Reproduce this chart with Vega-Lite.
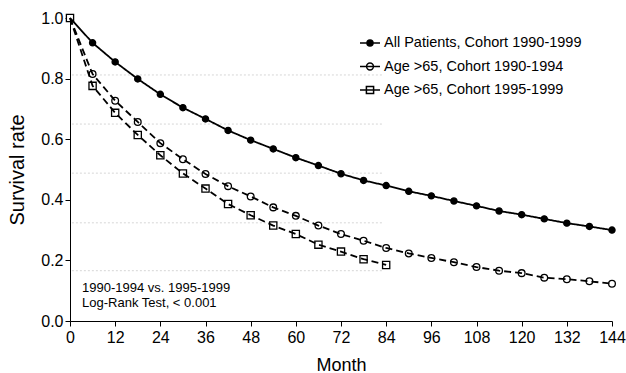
{
  "$schema": "https://vega.github.io/schema/vega-lite/v6.json",
  "width": 542,
  "height": 303,
  "autosize": {"type": "none"},
  "padding": {"left": 70, "top": 18, "right": 14, "bottom": 52},
  "background": "white",
  "config": {
    "font": "Liberation Sans",
    "view": {"stroke": null},
    "axis": {
      "grid": false,
      "domainColor": "black",
      "tickColor": "black",
      "labelColor": "black",
      "titleColor": "black",
      "labelFont": "Liberation Sans",
      "titleFont": "Liberation Sans",
      "titleFontWeight": "normal",
      "labelFontSize": 16,
      "titleFontSize": 18
    },
    "legend": {
      "title": null,
      "orient": "none",
      "legendX": 289,
      "legendY": 14,
      "padding": 0,
      "symbolSize": 400,
      "symbolStrokeWidth": 1.5,
      "symbolStrokeColor": "black",
      "labelFontSize": 14.5,
      "labelColor": "black",
      "labelFont": "Liberation Sans",
      "labelOffset": 3,
      "rowPadding": 5.5,
      "labelLimit": 400
    }
  },
  "datasets": {
    "surv": [
      {"series": "All Patients, Cohort 1990-1999", "month": 0, "rate": 1.0},
      {"series": "All Patients, Cohort 1990-1999", "month": 6, "rate": 0.918},
      {"series": "All Patients, Cohort 1990-1999", "month": 12, "rate": 0.855},
      {"series": "All Patients, Cohort 1990-1999", "month": 18, "rate": 0.799},
      {"series": "All Patients, Cohort 1990-1999", "month": 24, "rate": 0.748},
      {"series": "All Patients, Cohort 1990-1999", "month": 30, "rate": 0.704},
      {"series": "All Patients, Cohort 1990-1999", "month": 36, "rate": 0.667},
      {"series": "All Patients, Cohort 1990-1999", "month": 42, "rate": 0.629},
      {"series": "All Patients, Cohort 1990-1999", "month": 48, "rate": 0.597},
      {"series": "All Patients, Cohort 1990-1999", "month": 54, "rate": 0.568},
      {"series": "All Patients, Cohort 1990-1999", "month": 60, "rate": 0.539},
      {"series": "All Patients, Cohort 1990-1999", "month": 66, "rate": 0.513},
      {"series": "All Patients, Cohort 1990-1999", "month": 72, "rate": 0.486},
      {"series": "All Patients, Cohort 1990-1999", "month": 78, "rate": 0.464},
      {"series": "All Patients, Cohort 1990-1999", "month": 84, "rate": 0.447},
      {"series": "All Patients, Cohort 1990-1999", "month": 90, "rate": 0.428},
      {"series": "All Patients, Cohort 1990-1999", "month": 96, "rate": 0.413},
      {"series": "All Patients, Cohort 1990-1999", "month": 102, "rate": 0.396},
      {"series": "All Patients, Cohort 1990-1999", "month": 108, "rate": 0.380},
      {"series": "All Patients, Cohort 1990-1999", "month": 114, "rate": 0.363},
      {"series": "All Patients, Cohort 1990-1999", "month": 120, "rate": 0.351},
      {"series": "All Patients, Cohort 1990-1999", "month": 126, "rate": 0.337},
      {"series": "All Patients, Cohort 1990-1999", "month": 132, "rate": 0.323},
      {"series": "All Patients, Cohort 1990-1999", "month": 138, "rate": 0.312},
      {"series": "All Patients, Cohort 1990-1999", "month": 144, "rate": 0.300},
      {"series": "Age >65, Cohort 1990-1994", "month": 0, "rate": 1.0},
      {"series": "Age >65, Cohort 1990-1994", "month": 6, "rate": 0.815},
      {"series": "Age >65, Cohort 1990-1994", "month": 12, "rate": 0.727},
      {"series": "Age >65, Cohort 1990-1994", "month": 18, "rate": 0.657},
      {"series": "Age >65, Cohort 1990-1994", "month": 24, "rate": 0.587},
      {"series": "Age >65, Cohort 1990-1994", "month": 30, "rate": 0.534},
      {"series": "Age >65, Cohort 1990-1994", "month": 36, "rate": 0.485},
      {"series": "Age >65, Cohort 1990-1994", "month": 42, "rate": 0.445},
      {"series": "Age >65, Cohort 1990-1994", "month": 48, "rate": 0.411},
      {"series": "Age >65, Cohort 1990-1994", "month": 54, "rate": 0.375},
      {"series": "Age >65, Cohort 1990-1994", "month": 60, "rate": 0.347},
      {"series": "Age >65, Cohort 1990-1994", "month": 66, "rate": 0.315},
      {"series": "Age >65, Cohort 1990-1994", "month": 72, "rate": 0.287},
      {"series": "Age >65, Cohort 1990-1994", "month": 78, "rate": 0.265},
      {"series": "Age >65, Cohort 1990-1994", "month": 84, "rate": 0.241},
      {"series": "Age >65, Cohort 1990-1994", "month": 90, "rate": 0.223},
      {"series": "Age >65, Cohort 1990-1994", "month": 96, "rate": 0.208},
      {"series": "Age >65, Cohort 1990-1994", "month": 102, "rate": 0.194},
      {"series": "Age >65, Cohort 1990-1994", "month": 108, "rate": 0.178},
      {"series": "Age >65, Cohort 1990-1994", "month": 114, "rate": 0.166},
      {"series": "Age >65, Cohort 1990-1994", "month": 120, "rate": 0.158},
      {"series": "Age >65, Cohort 1990-1994", "month": 126, "rate": 0.143},
      {"series": "Age >65, Cohort 1990-1994", "month": 132, "rate": 0.138},
      {"series": "Age >65, Cohort 1990-1994", "month": 138, "rate": 0.131},
      {"series": "Age >65, Cohort 1990-1994", "month": 144, "rate": 0.123},
      {"series": "Age >65, Cohort 1995-1999", "month": 0, "rate": 1.0},
      {"series": "Age >65, Cohort 1995-1999", "month": 6, "rate": 0.776},
      {"series": "Age >65, Cohort 1995-1999", "month": 12, "rate": 0.687},
      {"series": "Age >65, Cohort 1995-1999", "month": 18, "rate": 0.614},
      {"series": "Age >65, Cohort 1995-1999", "month": 24, "rate": 0.547},
      {"series": "Age >65, Cohort 1995-1999", "month": 30, "rate": 0.487},
      {"series": "Age >65, Cohort 1995-1999", "month": 36, "rate": 0.437},
      {"series": "Age >65, Cohort 1995-1999", "month": 42, "rate": 0.386},
      {"series": "Age >65, Cohort 1995-1999", "month": 48, "rate": 0.349},
      {"series": "Age >65, Cohort 1995-1999", "month": 54, "rate": 0.315},
      {"series": "Age >65, Cohort 1995-1999", "month": 60, "rate": 0.287},
      {"series": "Age >65, Cohort 1995-1999", "month": 66, "rate": 0.252},
      {"series": "Age >65, Cohort 1995-1999", "month": 72, "rate": 0.229},
      {"series": "Age >65, Cohort 1995-1999", "month": 78, "rate": 0.204},
      {"series": "Age >65, Cohort 1995-1999", "month": 84, "rate": 0.185}
    ],
    "grid": [
      {"g": 0.812}, {"g": 0.65}, {"g": 0.488}, {"g": 0.324}, {"g": 0.166}
    ]
  },
  "resolve": {
    "scale": {"shape": "independent", "fill": "independent"},
    "legend": {"shape": "independent", "fill": "independent"}
  },
  "layer": [
    {
      "data": {"name": "grid"},
      "mark": {"type": "rule", "color": "#d6d6d6", "strokeDash": [2, 2], "strokeWidth": 1},
      "encoding": {
        "y": {"field": "g", "type": "quantitative", "scale": {"domain": [0, 1]}},
        "x": {"datum": 0.5, "type": "quantitative"},
        "x2": {"datum": 83}
      }
    },
    {
      "data": {"name": "surv"},
      "mark": {"type": "point", "filled": true, "stroke": "black", "strokeWidth": 1.3, "opacity": 1},
      "encoding": {
        "x": {"field": "month", "type": "quantitative"},
        "y": {"field": "rate", "type": "quantitative"},
        "shape": {
          "field": "series", "type": "nominal",
          "scale": {
            "domain": ["All Patients, Cohort 1990-1999", "Age >65, Cohort 1990-1994", "Age >65, Cohort 1995-1999"],
            "range": ["circle", "circle", "square"]
          },
          "legend": null
        },
        "fill": {
          "field": "series", "type": "nominal",
          "scale": {
            "domain": ["All Patients, Cohort 1990-1999", "Age >65, Cohort 1990-1994", "Age >65, Cohort 1995-1999"],
            "range": ["black", "white", "white"]
          },
          "legend": null
        },
        "size": {
          "field": "series", "type": "nominal",
          "scale": {
            "domain": ["All Patients, Cohort 1990-1999", "Age >65, Cohort 1990-1994", "Age >65, Cohort 1995-1999"],
            "range": [38, 52, 52]
          },
          "legend": null
        }
      }
    },
    {
      "data": {"name": "surv"},
      "mark": {"type": "line", "color": "black", "strokeWidth": 1.8},
      "encoding": {
        "x": {
          "field": "month", "type": "quantitative",
          "scale": {"domain": [0, 144], "nice": false},
          "axis": {
            "title": "Month",
            "values": [0,3,6,9,12,15,18,21,24,27,30,33,36,39,42,45,48,51,54,57,60,63,66,69,72,75,78,81,84,87,90,93,96,99,102,105,108,111,114,117,120,123,126,129,132,135,138,141,144],
            "labelExpr": "datum.value % 12 === 0 ? datum.label : ''",
            "labelOverlap": false,
            "labelFlush": false,
            "labelBound": false,
            "tickSize": {"condition": {"test": "datum.value % 12 === 0", "value": 5}, "value": -4},
            "labelPadding": 3,
            "titlePadding": 11
          }
        },
        "y": {
          "field": "rate", "type": "quantitative",
          "scale": {"domain": [0, 1], "nice": false},
          "axis": {
            "title": "Survival rate",
            "values": [0, 0.1, 0.2, 0.3, 0.4, 0.5, 0.6, 0.7, 0.8, 0.9, 1.0],
            "labelExpr": "round(datum.value * 10) % 2 === 0 ? format(datum.value, '.1f') : ''",
            "labelOverlap": false,
            "labelFlush": false,
            "labelBound": false,
            "tickSize": {"condition": {"test": "round(datum.value * 10) % 2 === 0", "value": 5}, "value": 3},
            "labelPadding": 2,
            "titlePadding": 13,
            "titleFontSize": 20
          }
        },
        "detail": {"field": "series", "type": "nominal"},
        "strokeDash": {
          "field": "series", "type": "nominal",
          "scale": {
            "domain": ["All Patients, Cohort 1990-1999", "Age >65, Cohort 1990-1994", "Age >65, Cohort 1995-1999"],
            "range": [[1, 0], [7, 4], [7, 4]]
          },
          "legend": null
        }
      }
    },
    {
      "data": {"name": "surv"},
      "mark": {"type": "point", "filled": true, "stroke": "black", "strokeWidth": 1.5, "opacity": 0, "size": 400},
      "encoding": {
        "x": {"field": "month", "type": "quantitative"},
        "y": {"field": "rate", "type": "quantitative"},
        "shape": {
          "field": "series", "type": "nominal",
          "scale": {
            "domain": ["All Patients, Cohort 1990-1999", "Age >65, Cohort 1990-1994", "Age >65, Cohort 1995-1999"],
            "range": [
              "M-1,0H1M0.3,0A0.3,0.3 0 1,1 -0.3,0A0.3,0.3 0 1,1 0.3,0Z",
              "M-1,0H1M0.34,0A0.34,0.34 0 1,1 -0.34,0A0.34,0.34 0 1,1 0.34,0Z",
              "M-1,0H1M-0.36,-0.36H0.36V0.36H-0.36Z"
            ]
          },
          "legend": {
            "symbolOpacity": 1,
            "symbolSize": 400,
            "symbolStrokeColor": "black",
            "encode": {"symbols": {"update": {"stroke": {"value": "black"}, "strokeWidth": {"value": 1.5}, "opacity": {"value": 1}}}}
          }
        },
        "fill": {
          "field": "series", "type": "nominal",
          "scale": {
            "domain": ["All Patients, Cohort 1990-1999", "Age >65, Cohort 1990-1994", "Age >65, Cohort 1995-1999"],
            "range": ["black", "white", "white"]
          },
          "legend": {
            "symbolOpacity": 1,
            "symbolSize": 400,
            "symbolStrokeColor": "black",
            "encode": {"symbols": {"update": {"stroke": {"value": "black"}, "strokeWidth": {"value": 1.5}, "opacity": {"value": 1}}}}
          }
        }
      }
    },
    {
      "data": {"values": [{}]},
      "mark": {
        "type": "text",
        "text": ["1990-1994 vs. 1995-1999", "Log-Rank Test, < 0.001"],
        "align": "left",
        "baseline": "alphabetic",
        "fontSize": 13,
        "lineHeight": 15,
        "color": "black"
      },
      "encoding": {
        "x": {"datum": 3.2, "type": "quantitative"},
        "y": {"datum": 0.097, "type": "quantitative"}
      }
    }
  ]
}
